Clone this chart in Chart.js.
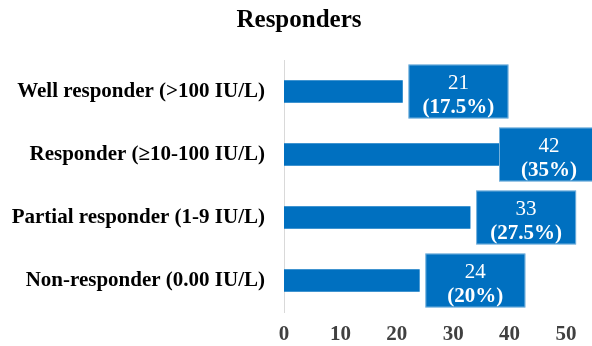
<!DOCTYPE html>
<html>
<head>
<meta charset="utf-8">
<script src="https://cdn.jsdelivr.net/npm/chart.js@4"></script>
<style>
  html, body { margin: 0; padding: 0; background: #fff; }
  #wrap { width: 592px; height: 346px; }
</style>
</head>
<body>
<div id="wrap"><canvas id="c"></canvas></div>
<script>
var categories = [
  'Well responder (>100 IU/L)',
  'Responder (\u226510-100 IU/L)',
  'Partial responder (1-9 IU/L)',
  'Non-responder (0.00 IU/L)'
];
var counts = [21, 42, 33, 24];
var percents = ['17.5%', '35%', '27.5%', '20%'];
var xTicks = [0, 10, 20, 30, 40, 50];

var serif = '"Liberation Serif", "Times New Roman", serif';
var blue = '#0070C0';

// boxed value + percent label to the right of each bar
var boxLabels = {
  id: 'boxLabels',
  afterLayout: function(chart) {
    // centre the title on the whole canvas, not the padded area
    var t = chart.titleBlock;
    if (t) { t.left = 0; t.right = chart.width + 6; }
  },
  afterDatasetsDraw: function(chart) {
    var ctx = chart.ctx;
    var meta = chart.getDatasetMeta(0);
    ctx.save();
    meta.data.forEach(function(bar, i) {
      var w = 100, h = 54;
      var left = Math.min(bar.x + 6, chart.width - 93);
      var top = bar.y - h / 2;
      ctx.fillStyle = blue;
      ctx.fillRect(left, top, w, h);
      ctx.strokeStyle = 'rgba(255,255,255,0.45)';
      ctx.lineWidth = 1;
      ctx.strokeRect(left + 0.5, top + 0.5, w - 1, h - 1);
      ctx.fillStyle = '#fff';
      ctx.textAlign = 'center';
      ctx.textBaseline = 'middle';
      ctx.font = '21px ' + serif;
      ctx.fillText(String(counts[i]), left + w / 2, bar.y - 8);
      ctx.font = 'bold 21px ' + serif;
      ctx.fillText('(' + percents[i] + ')', left + w / 2, bar.y + 16);
    });
    ctx.restore();
  }
};

new Chart(document.getElementById('c'), {
  type: 'bar',
  data: {
    labels: categories,
    datasets: [{
      data: counts,
      backgroundColor: blue,
      barThickness: 22
    }]
  },
  plugins: [boxLabels],
  options: {
    indexAxis: 'y',
    responsive: true,
    maintainAspectRatio: false,
    animation: false,
    layout: { padding: { left: 0, right: 26, top: 0, bottom: 0 } },
    plugins: {
      legend: { display: false },
      tooltip: { enabled: false },
      title: {
        display: true,
        text: 'Responders',
        color: '#000',
        font: { family: serif, size: 25, weight: 'bold' },
        padding: { top: 6, bottom: 24 }
      }
    },
    scales: {
      x: {
        min: 0,
        max: 50,
        afterBuildTicks: function(scale) {
          scale.ticks = xTicks.map(function(v) { return { value: v }; });
        },
        afterFit: function(scale) { scale.height = 34; },
        grid: { display: false, drawTicks: false },
        border: { display: false },
        ticks: {
          color: '#404040',
          padding: 10,
          font: { family: serif, size: 21, weight: 'bold' }
        }
      },
      y: {
        afterFit: function(scale) { scale.width = 284; },
        grid: { display: false, drawTicks: false },
        border: { display: true, color: '#d9d9d9', width: 1 },
        ticks: {
          color: '#000',
          padding: 19,
          font: { family: serif, size: 21, weight: 'bold' }
        }
      }
    }
  }
});
</script>
</body>
</html>
